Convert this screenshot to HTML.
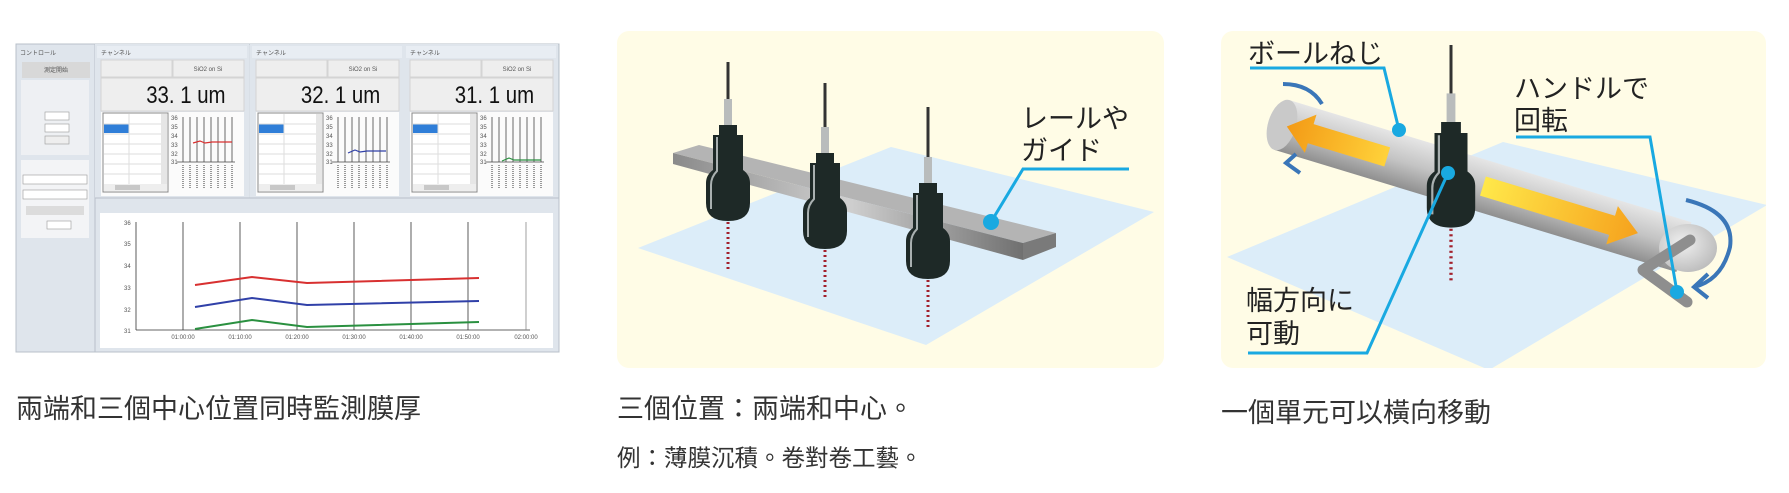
<!DOCTYPE html>
<html><head><meta charset="utf-8"><style>
html,body{margin:0;padding:0;background:#fff;}
svg{display:block;}
.cap{font-family:"Liberation Sans","Noto Sans CJK TC",sans-serif;fill:#333;}
.jp{font-family:"Liberation Sans","Noto Sans CJK JP",sans-serif;fill:#222;}
.sm{font-family:"Liberation Sans",sans-serif;fill:#555;font-size:6px;}
</style></head><body>
<svg width="1789" height="493" viewBox="0 0 1789 493" xmlns="http://www.w3.org/2000/svg">
<defs>
<linearGradient id="rail" x1="0" y1="0" x2="1" y2="0">
<stop offset="0" stop-color="#8a8a8a"/><stop offset="0.5" stop-color="#d0d0d0"/><stop offset="1" stop-color="#707070"/></linearGradient>
<linearGradient id="tube" x1="0" y1="0" x2="0" y2="1">
<stop offset="0" stop-color="#e6e6e6"/><stop offset="0.5" stop-color="#c4c4c4"/><stop offset="1" stop-color="#8f8f8f"/></linearGradient>
<linearGradient id="orL" x1="0" y1="0" x2="1" y2="0">
<stop offset="0" stop-color="#f39a16"/><stop offset="1" stop-color="#ffd23a"/></linearGradient>
<linearGradient id="orR" x1="0" y1="0" x2="1" y2="0">
<stop offset="0" stop-color="#ffe84a"/><stop offset="1" stop-color="#f6a21d"/></linearGradient>
<radialGradient id="disc" cx="0.4" cy="0.4" r="0.7"><stop offset="0" stop-color="#f0f0f0"/><stop offset="1" stop-color="#b8b8b8"/></radialGradient>
<clipPath id="c3"><rect x="1221" y="31" width="545" height="337" rx="12"/></clipPath>
<clipPath id="c2"><rect x="617" y="31" width="547" height="337" rx="12"/></clipPath>
<g id="sensor">
<rect x="-4" y="-26" width="8" height="27" fill="#b9bcbc"/>
<path d="M-9,0 H9 V10 H15 V45 Q22,50 22,58 V78 Q22,96 0,96 Q-22,96 -22,78 V58 Q-22,50 -15,45 V10 H-9 Z" fill="#1e2927"/>
<path d="M-11,12 V46 Q-17,52 -17,60 V84" fill="none" stroke="#a9b0b0" stroke-width="2"/>
<line x1="0" y1="97" x2="0" y2="144" stroke="#a2202c" stroke-width="3" stroke-dasharray="2,3"/>
</g>
<g id="chan">
<rect x="0" y="0" width="154" height="154" fill="#dfe5ec"/>
<rect x="2" y="2" width="150" height="12" fill="#e8edf3"/>
<text x="6" y="11" class="sm" fill="#aab">チャンネル</text>
<rect x="6" y="16" width="71" height="17" fill="#eeeeee" stroke="#d4d4d4"/>
<rect x="78" y="16" width="71" height="17" fill="#eeeeee" stroke="#d4d4d4"/>
<text x="113" y="27" class="sm" text-anchor="middle">SiO2 on Si</text>
<rect x="6" y="34" width="143" height="33" fill="#eeeeee" stroke="#d4d4d4"/>
<rect x="6" y="68" width="143" height="84" fill="#fbfbfb"/>
<rect x="8" y="69" width="65" height="79" fill="#fff" stroke="#888"/>
<rect x="9" y="80" width="25" height="9" fill="#2f7ed8"/>
<g stroke="#ddd"><line x1="9" y1="80" x2="66" y2="80"/><line x1="9" y1="90" x2="66" y2="90"/><line x1="9" y1="100" x2="66" y2="100"/><line x1="9" y1="110" x2="66" y2="110"/><line x1="9" y1="120" x2="66" y2="120"/><line x1="9" y1="130" x2="66" y2="130"/><line x1="34" y1="70" x2="34" y2="140"/></g>
<rect x="66" y="70" width="6" height="70" fill="#e6e6e6"/>
<rect x="9" y="140" width="63" height="7" fill="#eee"/>
<rect x="20" y="141" width="25" height="5" fill="#c8c8c8"/>
<g stroke="#444" stroke-width="0.8"><line x1="88" y1="73" x2="88" y2="118"/><line x1="95" y1="73" x2="95" y2="118"/><line x1="102" y1="73" x2="102" y2="118"/><line x1="109" y1="73" x2="109" y2="118"/><line x1="116" y1="73" x2="116" y2="118"/><line x1="123" y1="73" x2="123" y2="118"/><line x1="130" y1="73" x2="130" y2="118"/><line x1="137" y1="73" x2="137" y2="118"/><line x1="82" y1="118" x2="140" y2="118"/></g>
<g class="sm" font-size="5"><text x="76" y="76">36</text><text x="76" y="85">35</text><text x="76" y="94">34</text><text x="76" y="103">33</text><text x="76" y="112">32</text><text x="76" y="120">31</text></g>
<g stroke="#999" stroke-width="2" stroke-dasharray="1,1"><line x1="88" y1="121" x2="88" y2="145"/><line x1="95" y1="121" x2="95" y2="145"/><line x1="102" y1="121" x2="102" y2="145"/><line x1="109" y1="121" x2="109" y2="145"/><line x1="116" y1="121" x2="116" y2="145"/><line x1="123" y1="121" x2="123" y2="145"/><line x1="130" y1="121" x2="130" y2="145"/><line x1="137" y1="121" x2="137" y2="145"/></g>
</g>
</defs>

<!-- Panel 1 -->
<rect x="16" y="44" width="543" height="308" fill="#d9dfe6" stroke="#b8c0ca"/>
<rect x="16" y="44" width="79" height="308" fill="#dfe5ec" stroke="#b8c0ca"/>
<text x="20" y="55" class="sm" fill="#aab">コントロール</text>
<rect x="22" y="62" width="68" height="16" fill="#d8d8d8"/>
<text x="56" y="72" class="sm" text-anchor="middle">測定開始</text>
<rect x="21" y="80" width="68" height="75" fill="#eef0f3"/>
<rect x="21" y="160" width="68" height="78" fill="#f3f4f6"/>
<rect x="23" y="175" width="64" height="9" fill="#fff" stroke="#999" stroke-width="0.6"/>
<rect x="23" y="190" width="64" height="9" fill="#fff" stroke="#999" stroke-width="0.6"/>
<rect x="26" y="206" width="58" height="9" fill="#dcdcdc"/>
<rect x="45" y="112" width="24" height="8" fill="#fff" stroke="#999" stroke-width="0.6"/>
<rect x="45" y="124" width="24" height="8" fill="#fff" stroke="#999" stroke-width="0.6"/>
<rect x="45" y="136" width="24" height="8" fill="#eee" stroke="#999" stroke-width="0.6"/>
<rect x="47" y="221" width="24" height="8" fill="#fff" stroke="#999" stroke-width="0.6"/>
<use href="#chan" x="95" y="44"/>
<use href="#chan" x="250" y="44"/>
<use href="#chan" x="404" y="44"/>
<g font-family="'Liberation Sans Narrow','Liberation Sans',sans-serif" font-size="24" fill="#111" transform="scale(0.85,1)">
<text x="172" y="103">33. 1  um</text><text x="354" y="103">32. 1  um</text><text x="535" y="103">31. 1  um</text></g>
<polyline points="193,143 200,141 205,143 212,142 232,142" fill="none" stroke="#d83030" stroke-width="1.2"/>
<polyline points="348,153 355,150 360,152 367,151 386,151" fill="none" stroke="#3040a8" stroke-width="1.2"/>
<polyline points="502,161 509,158 514,160 521,160 541,160" fill="none" stroke="#2a9040" stroke-width="1.2"/>
<rect x="95" y="198" width="464" height="154" fill="#dfe5ec" stroke="#b8c0ca"/>
<rect x="100" y="213" width="453" height="135" fill="#fff"/>
<g stroke="#333" stroke-width="0.8">
<line x1="136" y1="222" x2="136" y2="330"/><line x1="136" y1="330" x2="530" y2="330"/>
<line x1="183" y1="222" x2="183" y2="330"/><line x1="240" y1="222" x2="240" y2="330"/><line x1="297" y1="222" x2="297" y2="330"/><line x1="354" y1="222" x2="354" y2="330"/><line x1="411" y1="222" x2="411" y2="330"/><line x1="468" y1="222" x2="468" y2="330"/><line x1="526" y1="222" x2="526" y2="330" stroke="#888"/></g>
<g class="sm" font-size="7"><text x="124" y="225">36</text><text x="124" y="246">35</text><text x="124" y="268">34</text><text x="124" y="290">33</text><text x="124" y="312">32</text><text x="124" y="333">31</text>
<g text-anchor="middle"><text x="183" y="339">01:00:00</text><text x="240" y="339">01:10:00</text><text x="297" y="339">01:20:00</text><text x="354" y="339">01:30:00</text><text x="411" y="339">01:40:00</text><text x="468" y="339">01:50:00</text><text x="526" y="339">02:00:00</text></g></g>
<polyline points="195,285 252,277 307,283 479,278" fill="none" stroke="#d83030" stroke-width="2"/>
<polyline points="195,307 252,298 307,305 479,301" fill="none" stroke="#3040a8" stroke-width="2"/>
<polyline points="195,329 252,320 307,327 479,322" fill="none" stroke="#2a9040" stroke-width="2"/>
<text x="16" y="418" class="cap" font-size="27">兩端和三個中心位置同時監測膜厚</text>

<!-- Panel 2 -->
<rect x="617" y="31" width="547" height="337" rx="12" fill="#fffce6"/>
<g clip-path="url(#c2)">
<polygon points="638,248 891,147 1154,212 926,345" fill="#dcedf9"/>
<polygon points="673,153 699,145 1056,233 1023,243" fill="#b4b4b4"/>
<polygon points="673,153 1023,243 1023,260 673,164" fill="url(#rail)"/>
<polygon points="1023,243 1056,233 1056,247 1023,260" fill="#7a7a7a"/>
<line x1="728" y1="62" x2="728" y2="100" stroke="#333" stroke-width="3"/>
<use href="#sensor" x="728" y="125"/>
<line x1="825" y1="83" x2="825" y2="128" stroke="#333" stroke-width="3"/>
<use href="#sensor" x="825" y="153"/>
<line x1="928" y1="107" x2="928" y2="158" stroke="#333" stroke-width="3"/>
<use href="#sensor" x="928" y="183"/>
<polyline points="1129,169 1023,169 991,222" fill="none" stroke="#19a9e1" stroke-width="3"/>
<circle cx="991" cy="222" r="8" fill="#19a9e1"/>
<text x="1021" y="128" class="jp" font-size="27">レールや</text>
<text x="1021" y="160" class="jp" font-size="27">ガイド</text>
</g>
<text x="617" y="418" class="cap" font-size="27">三個位置：兩端和中心。</text>
<text x="617" y="466" class="cap" font-size="23.5">例：薄膜沉積。卷對卷工藝。</text>

<!-- Panel 3 -->
<rect x="1221" y="31" width="545" height="337" rx="12" fill="#fffce6"/>
<g clip-path="url(#c3)">
<polygon points="1227,257 1503,142 1767,205 1489,370" fill="#dcedf9"/>
<g transform="translate(1282,125) rotate(16.9)">
<rect x="0" y="-26" width="420" height="52" fill="url(#tube)"/>
<ellipse cx="0" cy="0" rx="14" ry="26" fill="#c9c9c9"/>
<polygon points="5,0 30,-20 30,-10 110,-10 110,10 30,10 30,20" fill="url(#orL)"/>
<polygon points="210,-10 345,-10 345,-20 372,0 345,20 345,10 210,10" fill="url(#orR)"/>
</g>
<ellipse cx="1688" cy="248" rx="29" ry="24" fill="url(#disc)"/>
<path d="M1283,84 Q1310,84 1322,104" fill="none" stroke="#3a76b8" stroke-width="4"/>
<path d="M1300,173 L1286,163 L1296,154" fill="none" stroke="#3a76b8" stroke-width="4"/>
<path d="M1686,200 Q1735,212 1730,247 Q1722,280 1694,287" fill="none" stroke="#3a76b8" stroke-width="4"/>
<path d="M1708,274 L1694,287 L1708,298" fill="none" stroke="#3a76b8" stroke-width="4"/>
<line x1="1451" y1="45" x2="1451" y2="95" stroke="#333" stroke-width="3"/>
<g transform="translate(1451,122) scale(1.1)"><use href="#sensor"/></g>
<polyline points="1690,240 1643,270 1687,302" fill="none" stroke="#8e8e8e" stroke-width="11" stroke-linecap="round" stroke-linejoin="round"/>
<polyline points="1250,68 1384,68 1399,130" fill="none" stroke="#19a9e1" stroke-width="3"/>
<circle cx="1399" cy="130" r="7" fill="#19a9e1"/>
<polyline points="1516,137 1650,137 1677,292" fill="none" stroke="#19a9e1" stroke-width="3"/>
<circle cx="1677" cy="292" r="7" fill="#19a9e1"/>
<polyline points="1248,353 1367,353 1448,173" fill="none" stroke="#19a9e1" stroke-width="3"/>
<circle cx="1448" cy="173" r="7" fill="#19a9e1"/>
<text x="1248" y="63" class="jp" font-size="27">ボールねじ</text>
<text x="1514" y="98" class="jp" font-size="27">ハンドルで</text>
<text x="1514" y="130" class="jp" font-size="27">回転</text>
<text x="1246" y="310" class="jp" font-size="27">幅方向に</text>
<text x="1246" y="343" class="jp" font-size="27">可動</text>
</g>
<text x="1221" y="422" class="cap" font-size="27">一個單元可以橫向移動</text>
</svg>
</body></html>
